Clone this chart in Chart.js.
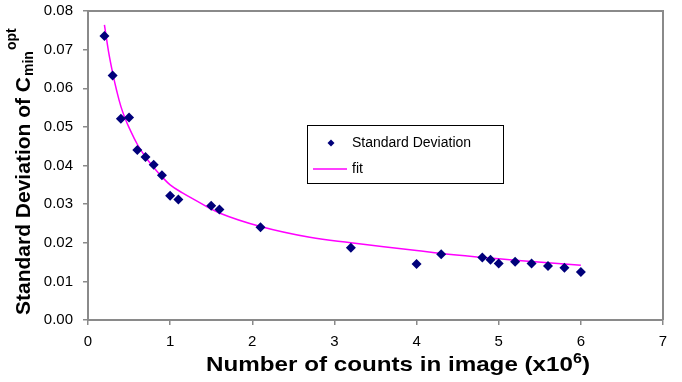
<!DOCTYPE html>
<html>
<head>
<meta charset="utf-8">
<script src="https://cdn.jsdelivr.net/npm/chart.js@4/dist/chart.umd.min.js"></script>
<style>
  html, body { margin: 0; padding: 0; background: #fff; }
  #wrap { width: 682px; height: 382px; position: relative; }
</style>
</head>
<body>
<div id="wrap"><canvas id="c" width="682" height="382"></canvas></div>
<script>
// Measured standard deviation vs. counts (x10^6)
const countsX = [0.2, 0.3, 0.4, 0.5, 0.6, 0.7, 0.8, 0.9, 1.0, 1.1, 1.5, 1.6, 2.1, 3.2, 4.0, 4.3, 4.8, 4.9, 5.0, 5.2, 5.4, 5.6, 5.8, 6.0];
const stdDevY = [0.0735, 0.0633, 0.0521, 0.0524, 0.0440, 0.0422, 0.0402, 0.0375, 0.0322, 0.0312, 0.0296, 0.0286, 0.0240, 0.0187, 0.0145, 0.0170, 0.0162, 0.0156, 0.0146, 0.0151, 0.0146, 0.0140, 0.0135, 0.0124];

// Fitted curve, sampled along its length
const fitX = [0.2, 0.25, 0.3, 0.35, 0.4, 0.45, 0.5, 0.6, 0.7, 0.8, 0.9, 1.0, 1.15, 1.3, 1.6, 2.1, 2.7, 3.2, 4.0, 4.3, 4.8, 5.2, 6.0];
const fitY = [0.0764, 0.0695, 0.0640, 0.0593, 0.0553, 0.0523, 0.0498, 0.0455, 0.0422, 0.0395, 0.0371, 0.0350, 0.0329, 0.0311, 0.0277, 0.0242, 0.0214, 0.0200, 0.0180, 0.0172, 0.0162, 0.0155, 0.0142];

const seriesNames = ['Standard Deviation', 'fit'];
const xTicks = [0, 1, 2, 3, 4, 5, 6, 7];
const yTicks = [0, 0.01, 0.02, 0.03, 0.04, 0.05, 0.06, 0.07, 0.08];

const AXIS_GREY = '#8a8a8a';
const FONT = '"Liberation Sans", Arial, sans-serif';

// Frame, axis titles (with sub/superscripts) and the boxed legend
const decor = {
  id: 'decor',
  afterDraw(chart) {
    const ctx = chart.ctx;
    const a = chart.chartArea;
    ctx.save();
    // top and right edges of the plot frame
    ctx.strokeStyle = AXIS_GREY;
    ctx.lineWidth = 2;
    ctx.beginPath();
    ctx.moveTo(a.left, a.top);
    ctx.lineTo(a.right, a.top);
    ctx.lineTo(a.right, a.bottom);
    ctx.stroke();

    ctx.fillStyle = '#000';
    ctx.textBaseline = 'alphabetic';
    ctx.textAlign = 'left';

    // x-axis title: Number of counts in image (x10^6), slightly widened
    const main = 'Number of counts in image (x10';
    const sup = '6';
    const tail = ')';
    ctx.font = 'bold 21px ' + FONT;
    const wMain = ctx.measureText(main).width;
    const wTail = ctx.measureText(tail).width;
    ctx.font = 'bold 14px ' + FONT;
    const wSup = ctx.measureText(sup).width;
    const natural = wMain + wSup + wTail;
    const targetW = 384;
    ctx.save();
    ctx.translate(206, 371);
    ctx.scale(targetW / natural, 1);
    ctx.font = 'bold 21px ' + FONT;
    ctx.fillText(main, 0, 0);
    ctx.font = 'bold 14px ' + FONT;
    ctx.fillText(sup, wMain, -8);
    ctx.font = 'bold 21px ' + FONT;
    ctx.fillText(tail, wMain + wSup, 0);
    ctx.restore();

    // y-axis title: Standard Deviation of C_min^opt (rotated)
    ctx.save();
    ctx.translate(30, 315);
    ctx.rotate(-Math.PI / 2);
    const yMain = 'Standard Deviation of C';
    const ySub = 'min';
    const ySup = 'opt';
    ctx.font = 'bold 21px ' + FONT;
    const wyMain = ctx.measureText(yMain).width;
    ctx.fillText(yMain, 0, 0);
    ctx.font = 'bold 14px ' + FONT;
    const wySub = ctx.measureText(ySub).width;
    ctx.fillText(ySub, wyMain + 1, 3);
    ctx.fillText(ySup, wyMain + wySub + 2, -14);
    ctx.restore();

    // legend box
    const lx = 307, ly = 125, lw = 196, lh = 58;
    ctx.fillStyle = '#fff';
    ctx.fillRect(lx, ly, lw, lh);
    ctx.strokeStyle = '#000';
    ctx.lineWidth = 1;
    ctx.strokeRect(lx + 0.5, ly + 0.5, lw, lh);
    // marker entry
    ctx.fillStyle = '#00007a';
    ctx.beginPath();
    const mx = 331, my = 143, r = 3.5;
    ctx.moveTo(mx, my - r);
    ctx.lineTo(mx + r, my);
    ctx.lineTo(mx, my + r);
    ctx.lineTo(mx - r, my);
    ctx.closePath();
    ctx.fill();
    // line entry
    ctx.strokeStyle = '#ff00ff';
    ctx.lineWidth = 1.5;
    ctx.beginPath();
    ctx.moveTo(313, 169);
    ctx.lineTo(347, 169);
    ctx.stroke();
    ctx.fillStyle = '#000';
    ctx.font = '14px ' + FONT;
    ctx.textBaseline = 'middle';
    ctx.fillText(seriesNames[0], 352, 143);
    ctx.fillText(seriesNames[1], 352, 169);
    ctx.restore();
  }
};

// keep the plot frame fixed regardless of tick label overhang
const noOverhang = s => { s.paddingTop = 0; s.paddingBottom = 0; s.paddingLeft = 0; s.paddingRight = 0; };

new Chart(document.getElementById('c'), {
  type: 'scatter',
  data: {
    datasets: [
      {
        label: seriesNames[1],
        data: fitX.map((x, i) => ({ x, y: fitY[i] })),
        showLine: true,
        borderColor: '#ff00ff',
        borderWidth: 1.5,
        pointRadius: 0,
        tension: 0.4,
        order: 2
      },
      {
        label: seriesNames[0],
        data: countsX.map((x, i) => ({ x, y: stdDevY[i] })),
        showLine: false,
        pointStyle: 'rectRot',
        pointRadius: 5,
        backgroundColor: '#00007a',
        borderColor: '#00007a',
        borderWidth: 0,
        order: 1
      }
    ]
  },
  options: {
    responsive: false,
    animation: false,
    devicePixelRatio: 1,
    layout: { padding: { left: 40, top: 11, right: 19, bottom: 0 } },
    plugins: {
      legend: { display: false },
      tooltip: { enabled: false },
      title: { display: false }
    },
    scales: {
      x: {
        type: 'linear',
        min: 0,
        max: 7,
        afterBuildTicks: s => { s.ticks = xTicks.map(v => ({ value: v })); },
        afterFit: s => { s.height = 62; noOverhang(s); },
        border: { display: true, color: AXIS_GREY, width: 2 },
        grid: { display: true, drawOnChartArea: false, drawTicks: true, tickLength: 5, color: AXIS_GREY, lineWidth: 1.5 },
        ticks: {
          color: '#000',
          font: { family: FONT, size: 15 },
          padding: 8,
          maxRotation: 0,
          callback: v => String(v)
        }
      },
      y: {
        type: 'linear',
        min: 0,
        max: 0.08,
        afterBuildTicks: s => { s.ticks = yTicks.map(v => ({ value: v })); },
        afterFit: s => { s.width = 48; noOverhang(s); },
        border: { display: true, color: AXIS_GREY, width: 2 },
        grid: { display: true, drawOnChartArea: false, drawTicks: true, tickLength: 5, color: AXIS_GREY, lineWidth: 1.5 },
        ticks: {
          color: '#000',
          font: { family: FONT, size: 15 },
          padding: 10,
          callback: v => v.toFixed(2)
        }
      }
    }
  },
  plugins: [decor]
});
</script>
</body>
</html>
